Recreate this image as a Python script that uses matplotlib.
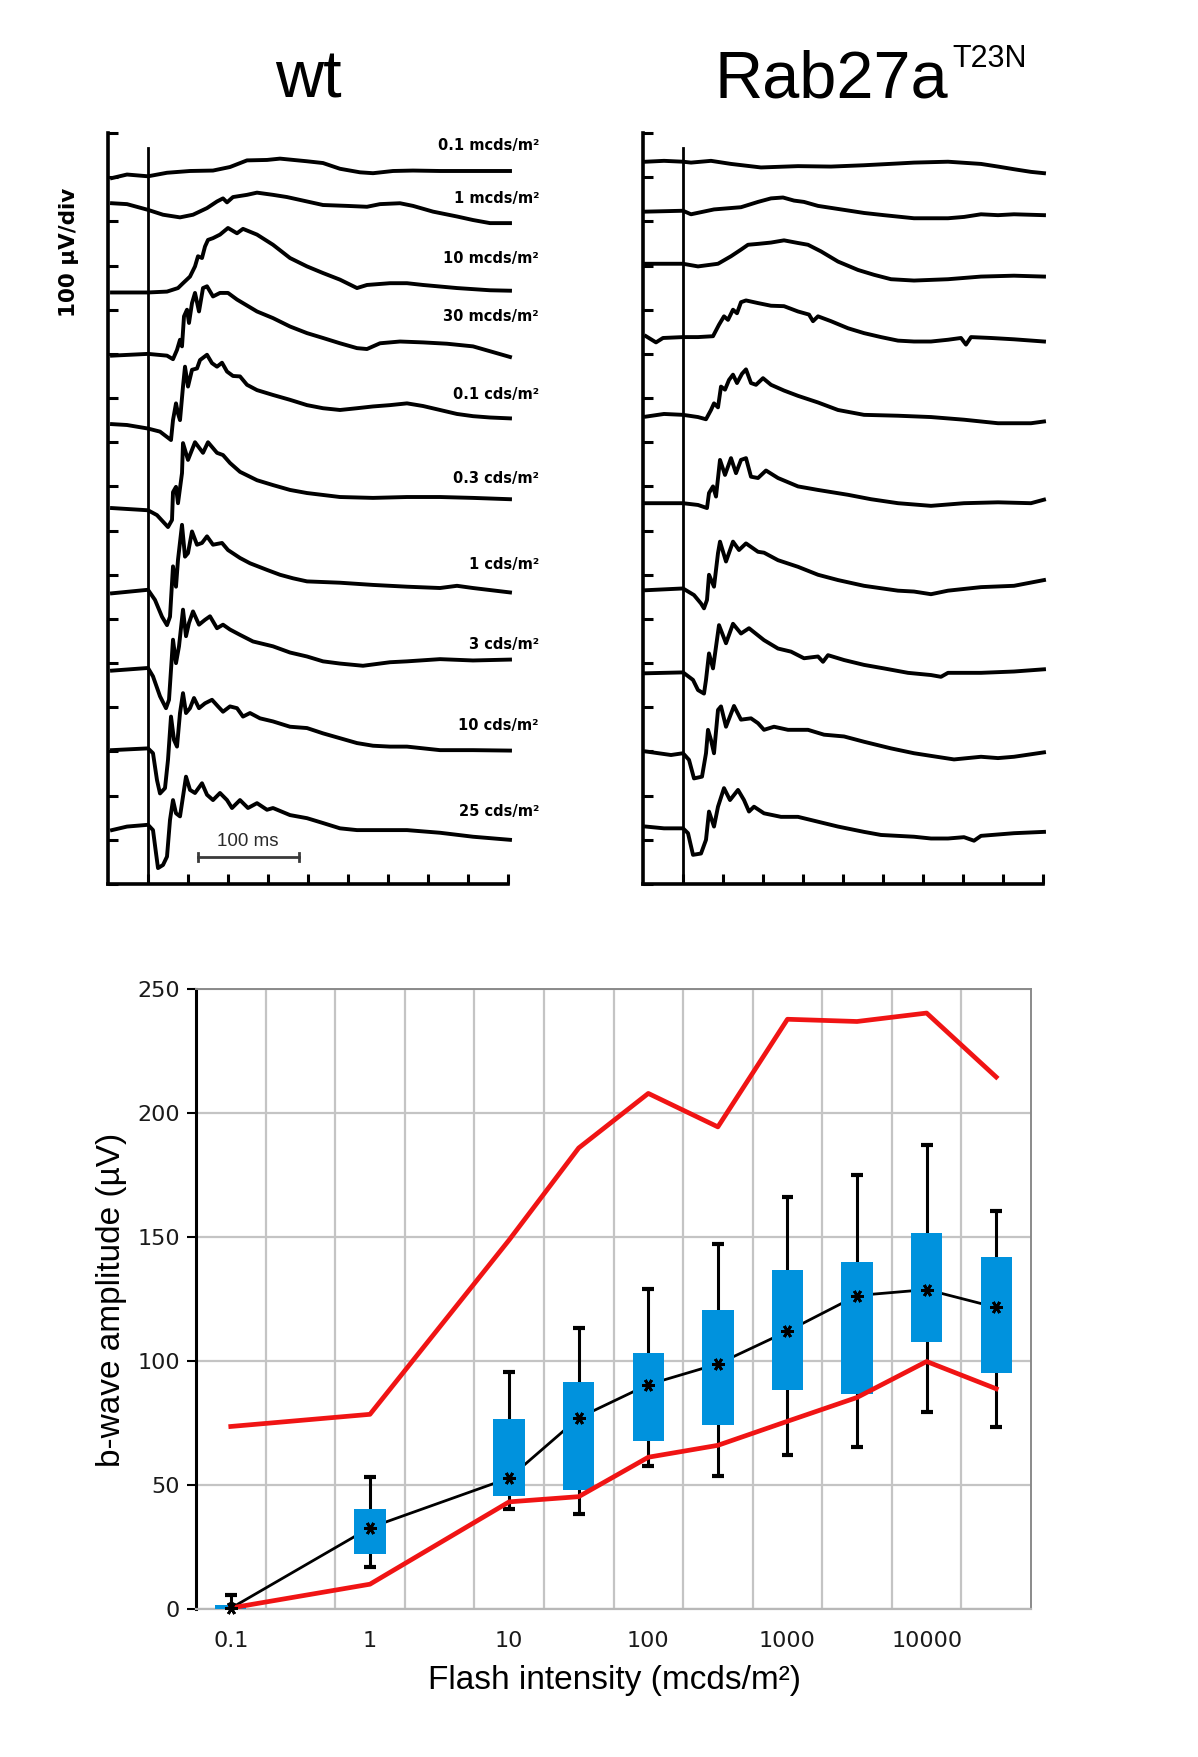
import numpy as np
import matplotlib
matplotlib.use("Agg")
import matplotlib.pyplot as plt

plt.rcParams['font.family'] = ['DejaVu Sans']

# ---- ERG traces: (time after flash in ms, deviation from baseline in uV) ----
intensity_labels = ["0.1 mcds/m²", "1 mcds/m²", "10 mcds/m²", "30 mcds/m²", "0.1 cds/m²",
                    "0.3 cds/m²", "1 cds/m²", "3 cds/m²", "10 cds/m²", "25 cds/m²"]

# baseline of each trace on the stacked 100 uV/div axis
wt_baseline = [1600, 1541, 1339, 1198, 1039, 851, 662, 485, 305, 130]
mut_baseline = [1635, 1524, 1404, 1238, 1062, 862, 667, 479, 296, 126]

wt_1 = [(-36,-2),(-21,6),(0,2),(19,10),(42,14),(65,15),(82,23),(99,38),(119,39),(132,42),(159,36),
        (175,32),(192,19),(212,11),(225,9),(245,14),(265,15),(292,14),(325,14),(362,14)]
wt_2 = [(-36,0),(-21,-2),(0,-15),(15,-26),(32,-32),(45,-26),(59,-11),(69,4),(75,11),(79,2),(85,14),
        (99,19),(109,24),(125,19),(139,14),(159,4),(175,-4),(199,-6),(219,-8),(232,-2),(252,0),
        (265,-6),(285,-19),(309,-30),(325,-38),(342,-45),(362,-45)]
wt_3 = [(-36,0),(0,0),(19,2),(30,10),(35,21),(42,36),(47,59),(50,82),(54,78),(57,104),(60,119),
        (65,123),(72,131),(80,146),(89,134),(95,144),(109,131),(125,108),(142,78),(159,59),(175,44),
        (192,29),(209,10),(219,17),(242,21),(259,21),(275,17),(309,10),(342,5),(362,4)]
wt_4 = [(-36,-2),(0,2),(19,-2),(25,-10),(29,11),(32,34),(34,19),(36,87),(39,102),(41,72),(44,117),
        (47,140),(51,98),(55,151),(59,155),(65,132),(72,140),(80,140),(89,125),(109,98),(125,83),
        (142,64),(159,49),(175,38),(192,26),(209,15),(219,13),(232,26),(252,30),(275,28),(299,25),
        (325,19),(342,8),(362,-5)]
wt_5 = [(-36,2),(-21,0),(0,-8),(12,-15),(23,-34),(25,11),(28,49),(30,26),(32,11),(35,87),(37,132),
        (40,87),(44,125),(49,128),(52,147),(59,159),(64,140),(69,132),(74,141),(79,121),(85,111),
        (92,110),(99,91),(109,79),(125,68),(142,57),(159,45),(175,38),(192,34),(209,38),(225,42),
        (242,45),(259,49),(275,43),(292,34),(309,25),(325,20),(342,17),(362,15)]
wt_6 = [(-36,0),(0,-5),(9,-16),(20,-43),(24,-27),(25,36),(28,48),(30,11),(34,79),(35,147),(40,109),
        (47,149),(55,125),(60,149),(69,125),(75,120),(82,102),(92,82),(109,63),(125,52),(142,41),
        (159,34),(192,25),(225,23),(259,25),(292,25),(325,23),(362,20)]
wt_7 = [(-36,-4),(0,4),(7,-19),(14,-57),(19,-76),(22,-57),(25,57),(28,11),(30,72),(34,151),(37,79),
        (40,87),(44,136),(49,106),(54,110),(59,125),(65,106),(74,110),(80,94),(92,76),(102,64),
        (119,49),(132,38),(145,30),(159,23),(192,20),(225,15),(259,11),(292,8),(309,13),(325,8),(362,-2)]
wt_8 = [(-36,-2),(0,4),(5,-15),(12,-60),(18,-87),(21,-68),(25,68),(28,15),(31,53),(35,136),(38,76),
        (41,106),(45,132),(51,102),(57,113),(62,121),(69,94),(75,102),(82,91),(92,79),(105,64),
        (125,53),(142,39),(159,30),(175,19),(192,14),(215,9),(242,17),(259,19),(292,24),(325,21),(362,23)]
wt_9 = [(-36,-2),(0,2),(5,-9),(9,-70),(12,-100),(17,-88),(20,-24),(23,74),(26,21),(29,6),(32,82),
        (35,127),(38,82),(42,93),(46,116),(51,93),(57,104),(64,112),(70,97),(75,85),(82,97),(89,93),
        (95,74),(102,82),(112,70),(125,63),(142,51),(159,48),(175,36),(192,25),(209,14),(225,8),
        (242,6),(259,6),(292,-2),(325,-2),(362,-3)]
wt_10 = [(-36,-8),(-21,0),(0,4),(5,-8),(8,-60),(10,-94),(15,-87),(19,-68),(22,15),(25,60),(28,30),
         (32,23),(35,68),(38,113),(42,83),(47,76),(54,98),(59,72),(65,60),(72,76),(79,60),(84,42),
         (92,60),(100,42),(109,53),(119,38),(125,42),(142,26),(159,19),(175,8),(192,-4),(209,-8),
         (242,-8),(259,-8),(292,-14),(325,-23),(362,-30)]

mut_1 = [(-37,0),(-19,2),(0,0),(8,-2),(28,2),(48,-5),(78,-13),(115,-10),(148,-11),(181,-8),(215,-4),
         (231,-2),(265,0),(298,-5),(315,-11),(331,-17),(348,-23),(361,-26)]
mut_2 = [(-37,-2),(0,0),(8,-8),(31,3),(58,8),(75,20),(88,28),(100,30),(111,23),(121,20),(135,11),
         (161,2),(181,-5),(201,-10),(231,-17),(265,-17),(281,-14),(298,-8),(315,-10),(331,-8),(361,-10)]
mut_3 = [(-37,0),(0,0),(15,-6),(35,0),(48,17),(58,32),(65,43),(75,45),(88,48),(101,53),(115,47),
         (125,43),(138,28),(155,5),(175,-14),(191,-25),(208,-35),(231,-38),(265,-35),(298,-29),
         (331,-27),(361,-29)]
mut_4 = [(-37,2),(-27,-12),(-20,-2),(0,0),(15,0),(30,2),(36,28),(41,47),(45,39),(50,62),(54,54),
         (58,79),(63,83),(75,77),(88,71),(101,70),(115,58),(126,51),(130,36),(135,47),(148,36),
         (165,20),(181,9),(198,0),(215,-8),(231,-10),(248,-10),(265,-6),(278,-2),(283,-17),(288,0),
         (308,-2),(331,-5),(361,-10)]
mut_5 = [(-37,-4),(-19,2),(0,0),(15,-5),(23,-10),(28,11),(31,26),(35,17),(38,64),(42,57),(46,79),
         (50,91),(54,72),(59,93),(63,103),(68,72),(73,68),(80,83),(88,68),(101,55),(115,43),(135,28),
         (155,11),(181,0),(215,-2),(248,-5),(281,-11),(315,-19),(348,-19),(361,-15)]
mut_6 = [(-37,0),(0,0),(15,-4),(24,-11),(26,23),(30,38),(33,15),(37,98),(42,64),(48,102),(53,68),
         (58,98),(63,102),(68,60),(75,57),(83,74),(95,57),(115,38),(135,30),(165,19),(188,9),(215,0),
         (248,-6),(281,0),(315,2),(348,0),(361,8)]
mut_7 = [(-37,-2),(0,2),(11,-13),(18,-32),(21,-43),(24,-24),(26,33),(31,6),(35,82),(37,108),(43,63),
         (50,108),(56,89),(63,104),(75,85),(81,83),(95,66),(115,51),(135,33),(155,21),(181,8),(215,-3),
         (231,-5),(248,-11),(265,-3),(298,5),(331,8),(361,21)]
mut_8 = [(-37,-2),(0,0),(10,-17),(15,-40),(21,-48),(23,-17),(26,43),(30,9),(36,107),(43,66),(50,110),
         (58,88),(66,100),(81,73),(95,54),(108,47),(121,32),(135,36),(140,24),(145,39),(161,28),
         (181,17),(201,9),(225,-1),(248,-6),(258,-10),(265,-1),(298,-1),(331,2),(361,7)]
mut_9 = [(-37,4),(-12,-4),(0,0),(6,-15),(11,-57),(19,-53),(23,0),(25,53),(28,30),(31,0),(35,98),
         (38,106),(43,60),(51,107),(58,76),(68,79),(75,68),(81,53),(91,60),(105,53),(125,53),(141,42),
         (161,38),(181,26),(208,11),(231,0),(248,-6),(271,-14),(298,-8),(315,-11),(331,-8),(361,2)]
mut_10 = [(-37,4),(-19,0),(0,0),(5,-11),(10,-60),(18,-57),(23,-26),(26,38),(31,4),(35,49),(41,91),
          (47,64),(55,87),(61,64),(66,38),(71,49),(81,34),(98,26),(115,26),(135,15),(155,4),(181,-8),
          (198,-15),(231,-19),(248,-23),(265,-23),(281,-20),(291,-28),(298,-17),(331,-11),(361,-8)]

wt_traces = [wt_1, wt_2, wt_3, wt_4, wt_5, wt_6, wt_7, wt_8, wt_9, wt_10]
mut_traces = [mut_1, mut_2, mut_3, mut_4, mut_5, mut_6, mut_7, mut_8, mut_9, mut_10]

# ---- b-wave summary (mcds/m^2, uV) ----
flash = [0.1, 1, 10, 30, 100, 300, 1000, 3000, 10000, 25000]
b_mean = [0.3, 32.8, 52.8, 77.1, 90.5, 98.8, 112, 126.4, 128.8, 121.6]
b_q1 = [0, 22, 45.7, 48, 67.9, 74.3, 88.2, 86.7, 107.5, 95.2]
b_q3 = [1.5, 40.5, 76.5, 91.4, 103.1, 120.5, 136.5, 140, 151.5, 141.9]
b_min = [0, 16.8, 40.3, 38.4, 57.7, 53.5, 62, 65.4, 79.5, 73.2]
b_max = [5.6, 53.4, 95.4, 113.2, 129.2, 147.3, 166, 175, 187, 160.6]
wt_upper = [73.6, 78.5, 148.8, 185.9, 207.9, 194.4, 237.8, 236.9, 240.3, 214.5]
wt_lower = [0.4, 10, 43.2, 45.3, 61.2, 66, 75.7, 85.3, 99.8, 88.8]
decade_ticks = [0.1, 1, 10, 100, 1000, 10000]

W, H = 1198, 1757
fig = plt.figure(figsize=(W / 100, H / 100), dpi=100)


def erg_axes(x0):
    ax = fig.add_axes([x0 / W, 1 - 884 / H, 400 / W, 751 / H])
    ax.set_xlim(-40, 360)
    ax.set_ylim(0, 1700)
    ax.spines['top'].set_visible(False)
    ax.spines['right'].set_visible(False)
    for s in ['left', 'bottom']:
        ax.spines[s].set_linewidth(2.6)
    ax.set_xticks(np.arange(0, 361, 40))
    ax.set_yticks(np.arange(0, 1701, 100))
    ax.tick_params(direction='in', length=7, width=2.2, labelbottom=False, labelleft=False)
    ax.axvline(0, ymax=1665 / 1700, color='k', lw=2)
    return ax


ax_wt = erg_axes(108)
ax_mut = erg_axes(643)

for ax, traces, bases in [(ax_wt, wt_traces, wt_baseline), (ax_mut, mut_traces, mut_baseline)]:
    for tr, b in zip(traces, bases):
        t, v = np.array(tr, dtype=float).T
        ax.plot(t, b + v, color='k', lw=2.8, solid_joinstyle='round', clip_on=False)

label_y = [1671, 1551, 1417, 1284, 1109, 919, 724, 543, 358, 165]
for lab, y in zip(intensity_labels, label_y):
    ax_wt.text(391, y, lab, ha='right', va='center', fontsize=10.5, fontweight='bold',
               family='DejaVu Sans', clip_on=False)

# 100 ms scale bar
ax_wt.plot([50, 151], [61, 61], color='#3a3a3a', lw=2)
ax_wt.plot([50, 50], [52, 70], color='#3a3a3a', lw=2)
ax_wt.plot([151, 151], [52, 70], color='#3a3a3a', lw=2)
ax_wt.text(100, 96, '100 ms', ha='center', va='center', fontsize=13.5,
           family='Liberation Sans', color='#2a2a2a')

fig.text(69 / W, 1 - 252 / H, '100 µV/div', rotation=90, ha='center', va='center',
         fontsize=15.5, fontweight='bold', family='DejaVu Sans')
fig.text(308 / W, 1 - 98 / H, 'wt', ha='center', va='baseline', fontsize=48, family='Liberation Sans')
fig.text(715 / W, 1 - 98 / H, 'Rab27a', ha='left', va='baseline', fontsize=48, family='Liberation Sans')
fig.text(952 / W, 1 - 67 / H, 'T23N', ha='left', va='baseline', fontsize=22, family='Liberation Sans')

# ---- b-wave amplitude panel ----
ax_b = fig.add_axes([196 / W, 1 - 1609 / H, 835 / W, 620 / H])
pos = np.round(2 * np.log10(np.array(flash) / 0.1))
tick_pos = np.round(2 * np.log10(np.array(decade_ticks) / 0.1))
ax_b.set_xlim(-0.5, 11.5)
ax_b.set_ylim(0, 250)
ax_b.set_xticks(tick_pos)
ax_b.set_xticklabels([f'{d:g}' for d in decade_ticks])
ax_b.set_xticks(np.arange(0.5, 11, 1), minor=True)
ax_b.set_yticks(np.arange(0, 251, 50))
ax_b.grid(which='minor', axis='x', color='#c4c4c4', lw=1.6)
ax_b.grid(which='major', axis='y', color='#c4c4c4', lw=1.6)
ax_b.set_axisbelow(True)
ax_b.tick_params(axis='x', which='both', length=0, pad=16, labelsize=16, labelcolor='#1a1a1a')
ax_b.tick_params(axis='y', length=6.5, width=1.5, pad=5, labelsize=16, labelcolor='#1a1a1a')
ax_b.spines['left'].set_linewidth(2.2)
ax_b.spines['left'].set_color('k')
for s in ['top', 'right']:
    ax_b.spines[s].set_color('#8a8a8a')
    ax_b.spines[s].set_linewidth(1.4)
ax_b.spines['bottom'].set_color('#b8b8b8')
ax_b.spines['bottom'].set_linewidth(1.6)

ax_b.vlines(pos, b_min, b_max, color='k', lw=2.2, zorder=2)
ax_b.hlines(b_max, pos - 0.085, pos + 0.085, color='k', lw=3, zorder=2)
ax_b.hlines(b_min, pos - 0.085, pos + 0.085, color='k', lw=3, zorder=2)
ax_b.plot(pos, b_mean, color='k', lw=2, zorder=2.5)
ax_b.bar(pos, np.array(b_q3) - np.array(b_q1), bottom=b_q1, width=0.45, color='#0092dd', zorder=3)
ax_b.plot(pos, wt_upper, color='#f01414', lw=3.4, zorder=4)
ax_b.plot(pos, wt_lower, color='#f01414', lw=3.4, zorder=4)
ax_b.plot(pos, b_mean, ls='none', marker=(6, 2, 90), ms=9, mew=2, color='k', zorder=5, clip_on=False)

fig.text(112 / W, 1 - 1300 / H, 'b-wave amplitude (µV)', rotation=90, ha='center', va='center',
         fontsize=24, family='Liberation Sans')
fig.text(615 / W, 1 - 1681 / H, 'Flash intensity (mcds/m²)', ha='center', va='center',
         fontsize=24, family='Liberation Sans')

fig.savefig('out.png', dpi=100)
